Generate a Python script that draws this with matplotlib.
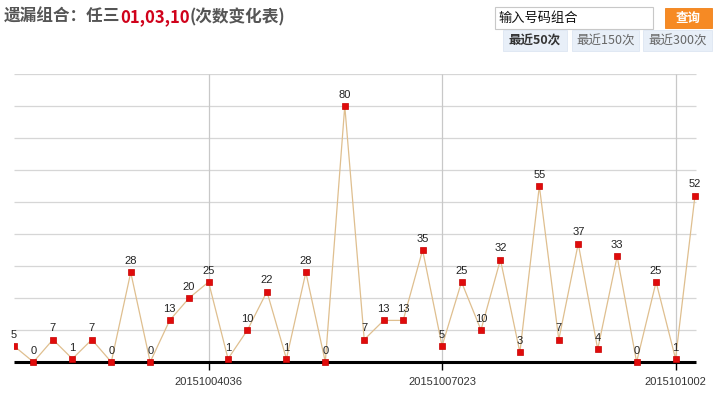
import matplotlib
matplotlib.use('Agg')
import matplotlib.pyplot as plt
from matplotlib.patches import Rectangle

plt.rcParams['font.family'] = ['Liberation Sans', 'Noto Sans CJK SC', 'DejaVu Sans']

# miss counts for the last 36 draws
values = [5, 0, 7, 1, 7, 0, 28, 0, 13, 20, 25, 1, 10, 22, 1, 28, 0, 80,
          7, 13, 13, 35, 5, 25, 10, 32, 3, 55, 7, 37, 4, 33, 0, 25, 1, 52]
tick_pos = [10, 22, 34]
tick_labels = ['20151004036', '20151007023', '2015101002']
grid_levels = [10, 20, 30, 40, 50, 60, 70, 80, 90]

W, H = 719, 408
fig = plt.figure(figsize=(W / 100, H / 100), dpi=100)

# plot area in pixels
x0, x_last, x_end = 14, 695, 712
y_base, y_top = 362, 74
step = (x_last - x0) / (len(values) - 1)
ax = fig.add_axes([x0 / W, (H - y_base) / H, (x_end - x0) / W, (y_base - y_top) / H])
ax.set_xlim(0, (x_end - x0) / step)
ax.set_ylim(0, 90)
for s in ax.spines.values():
    s.set_visible(False)
ax.set_yticks([])

grid_right = (696 - x0) / step
ax.hlines(grid_levels, 0, grid_right, color='#d6d6d6', lw=0.9, zorder=1)
ax.vlines(tick_pos, 0, 90, color='#c8c8c8', lw=0.9, zorder=1)
ax.hlines(0, 0, grid_right, color='black', lw=2.2, zorder=4, clip_on=False)

xs = list(range(len(values)))
ax.plot(xs, values, color='#dfbf8f', lw=0.9, zorder=3)
mk = dict(ls='none', marker='s', ms=5, mfc='#e00b0b', mec='#c80000', mew=0.5, zorder=5)
# first point sits on the left edge and gets cut, the rest are drawn whole
ax.plot(xs[:1], values[:1], **mk)
ax.plot(xs[1:], values[1:], clip_on=False, **mk)
for x, v in zip(xs, values):
    ax.annotate(str(v), (x, v), xytext=(0, 4.5), textcoords='offset points',
                ha='center', va='bottom', fontsize=8, color='#222222', zorder=6)

ax.set_xticks(tick_pos, tick_labels)
ax.tick_params(axis='x', length=6, width=1, color='black', pad=5,
               labelsize=8, labelcolor='#333333')

# title made of three coloured pieces
fig.canvas.draw()
r = fig.canvas.get_renderer()
tx = 4 / W
parts = [('遗漏组合：任三', '#555555'), ('01,03,10', '#d0021b'), ('(次数变化表)', '#555555')]
for txt, col in parts:
    t = fig.text(tx, 1 - 17 / H, txt, fontsize=12, fontweight='bold', color=col,
                 va='center', ha='left', family=['Noto Sans CJK SC', 'DejaVu Sans'])
    bb = t.get_window_extent(renderer=r)
    tx += bb.width / W

# search box and button
def px_rect(x, y, w, h, **kw):
    fig.add_artist(Rectangle((x / W, 1 - (y + h) / H), w / W, h / H,
                             transform=fig.transFigure, **kw))

px_rect(495, 7, 158, 22, facecolor='white', edgecolor='#c8c8c8', lw=0.8)
fig.text(498 / W, 1 - 18 / H, '输入号码组合', fontsize=9.5, color='#111111',
         va='center', ha='left', family=['Noto Sans CJK SC'])
px_rect(665, 8, 47, 20, facecolor='#f68a24', edgecolor='#f08018', lw=0.6)
fig.text(688.5 / W, 1 - 18 / H, '查询', fontsize=9, color='white', fontweight='bold',
         va='center', ha='center', family=['Noto Sans CJK SC'])

tabs = [('最近50次', 503, 64, True), ('最近150次', 572, 67, False), ('最近300次', 643, 69, False)]
for label, tx0, tw, active in tabs:
    px_rect(tx0, 30, tw, 21, facecolor='#e8eff8', edgecolor='#dde6f2', lw=0.6)
    fig.text((tx0 + tw / 2) / W, 1 - 41 / H, label, fontsize=9,
             color='#333333' if active else '#666666',
             fontweight='bold' if active else 'normal',
             va='center', ha='center', family=['Noto Sans CJK SC'])

fig.savefig('out.png', dpi=100)
